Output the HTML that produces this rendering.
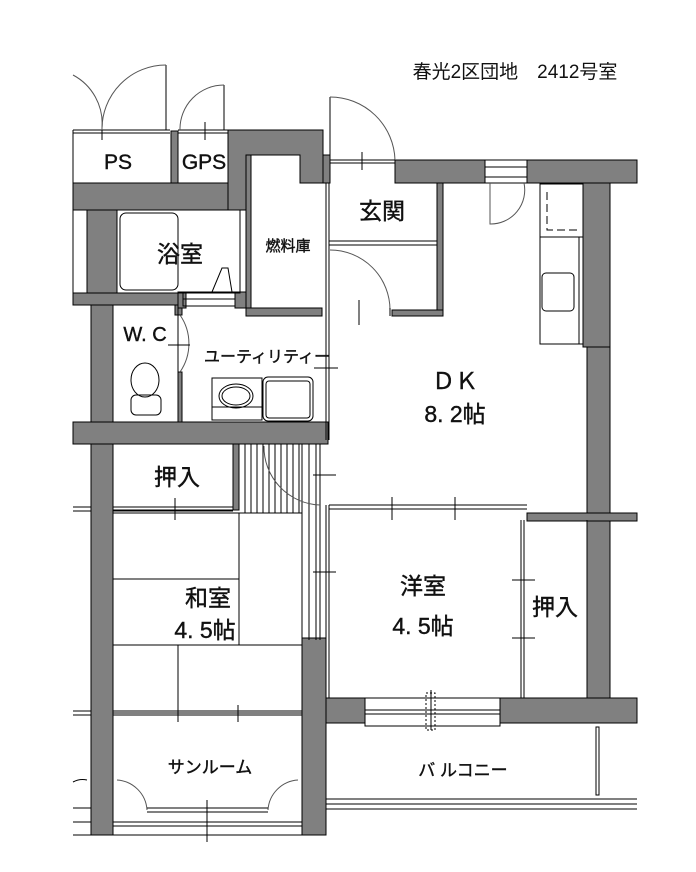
<!DOCTYPE html>
<html><head><meta charset="utf-8"><style>
html,body{margin:0;padding:0;background:#fff;}
svg{display:block;}
text{font-family:"Liberation Sans","Noto Sans CJK JP",sans-serif;fill:#111;}
.b{stroke:#111;stroke-width:0.4;}
</style></head><body>
<svg width="696" height="872" viewBox="0 0 696 872" xmlns="http://www.w3.org/2000/svg">
<g fill="#808080" stroke="#000" stroke-width="1">
<rect x="73" y="183" width="178" height="27"/>
<rect x="171" y="131" width="7" height="52"/>
<path d="M228 130 H323 V183 H300 V155 H251 V210 H228 Z" />
<rect x="246" y="155" width="5" height="161"/>
<rect x="246" y="308" width="76" height="8"/>
<rect x="87" y="210" width="30" height="83"/>
<rect x="73" y="293" width="106" height="12"/>
<rect x="91" y="305" width="22" height="530"/>
<rect x="175" y="305" width="7" height="10"/>
<rect x="178" y="372" width="4" height="50"/>
<rect x="73" y="422" width="255" height="22"/>
<rect x="233" y="444" width="6" height="66"/>
<rect x="178" y="292" width="8" height="16"/>
<rect x="235" y="292" width="11" height="16"/>
<rect x="395" y="160" width="242" height="23"/>
<rect x="323" y="155" width="7" height="28"/>
<rect x="437" y="183" width="6" height="133"/>
<rect x="392" y="310" width="51" height="6"/>
<rect x="583" y="183" width="27" height="164"/>
<rect x="587" y="347" width="23" height="376"/>
<rect x="527" y="513" width="110" height="8"/>
<rect x="302" y="638" width="24" height="197"/>
<rect x="326" y="698" width="39" height="25"/>
<rect x="500" y="698" width="137" height="25"/>
</g>
<g fill="none" stroke="#000" stroke-width="1">
<line x1="73" y1="130" x2="170" y2="130"/><line x1="73" y1="133" x2="170" y2="133"/>
<line x1="178" y1="130" x2="228" y2="130"/><line x1="178" y1="133" x2="228" y2="133"/>
<line x1="166" y1="65" x2="166" y2="130"/>
<path d="M166 65 A64 64 0 0 0 102 130" stroke="#555"/>
<path d="M73 75 A55 55 0 0 1 102 128" stroke="#555"/>
<line x1="102" y1="130" x2="102" y2="140"/>
<line x1="224" y1="85" x2="224" y2="130"/>
<path d="M224 85 A44 44 0 0 0 180 130" stroke="#555"/>
<line x1="205" y1="122" x2="205" y2="140"/>
<line x1="73" y1="130" x2="73" y2="183"/>
<line x1="73" y1="210" x2="73" y2="293"/>
<line x1="330" y1="97" x2="330" y2="160"/>
<path d="M330 97 A65 65 0 0 1 395 160" stroke="#555"/>
<line x1="330" y1="160" x2="395" y2="160"/><line x1="330" y1="163" x2="395" y2="163"/>
<line x1="362" y1="152" x2="362" y2="170"/>
<line x1="326" y1="183" x2="326" y2="440"/><line x1="329" y1="183" x2="329" y2="440"/>
<line x1="329" y1="241" x2="437" y2="241"/><line x1="329" y1="245" x2="437" y2="245"/>
<path d="M330 250 A60 60 0 0 1 390 310" stroke="#555"/>
<line x1="390" y1="308" x2="390" y2="316"/>
<line x1="359" y1="300" x2="359" y2="325"/>
<rect x="485" y="160" width="42" height="23" fill="#fff"/>
<line x1="485" y1="167" x2="527" y2="167"/><line x1="485" y1="177" x2="527" y2="177"/>
<path d="M490 183 V224 A34 34 0 0 0 524 183" stroke="#555"/>
<rect x="540" y="184" width="43" height="160"/>
<line x1="540" y1="237" x2="583" y2="237"/>
<path d="M547 192 V230 H578" stroke-dasharray="8,4"/>
<rect x="542" y="273" width="32" height="38" rx="4"/>
<line x1="579" y1="237" x2="579" y2="344"/>
<rect x="117" y="210" width="123" height="83"/>
<rect x="120" y="213" width="58" height="77" rx="6"/>
<rect x="183" y="292" width="52" height="14"/>
<line x1="183" y1="299" x2="235" y2="299"/>
<path d="M212 292 L222 268 L228 268 L232 292" />
<rect x="113" y="305" width="65" height="117"/>
<path d="M180 315 A50 50 0 0 1 180 372" stroke="#555"/>
<line x1="168" y1="345" x2="190" y2="345"/>
<ellipse cx="145" cy="380" rx="14" ry="17"/>
<rect x="131" y="395" width="30" height="20" rx="5"/>
<rect x="212" y="378" width="50" height="42"/>
<line x1="212" y1="407" x2="262" y2="407"/>
<ellipse cx="236" cy="396" rx="17" ry="12"/><ellipse cx="236" cy="396" rx="14" ry="9"/>
<rect x="263" y="377" width="50" height="44" rx="5"/>
<rect x="266" y="381" width="44" height="37" rx="3"/>
<line x1="314" y1="368" x2="338" y2="368"/>
<line x1="245" y1="444" x2="245" y2="513"/><line x1="251" y1="444" x2="251" y2="513"/>
<line x1="257" y1="444" x2="257" y2="513"/><line x1="263" y1="444" x2="263" y2="513"/>
<line x1="269" y1="444" x2="269" y2="513"/><line x1="275" y1="444" x2="275" y2="513"/>
<line x1="281" y1="444" x2="281" y2="513"/><line x1="287" y1="444" x2="287" y2="513"/>
<line x1="293" y1="444" x2="293" y2="513"/><line x1="299" y1="444" x2="299" y2="513"/>
<line x1="302" y1="444" x2="302" y2="640"/><line x1="309" y1="444" x2="309" y2="640"/>
<line x1="316" y1="444" x2="316" y2="640"/><line x1="320" y1="444" x2="320" y2="640"/>
<path d="M264 446 A58 58 0 0 0 320 505" stroke="#555"/>
<line x1="313" y1="475" x2="336" y2="475"/>
<line x1="313" y1="572" x2="336" y2="572"/>
<line x1="326" y1="505" x2="326" y2="640"/><line x1="329" y1="505" x2="329" y2="640"/>
<rect x="113" y="444" width="120" height="66"/>
<line x1="113" y1="507" x2="233" y2="507"/><line x1="113" y1="511" x2="233" y2="511"/>
<line x1="175" y1="498" x2="175" y2="520"/>
<line x1="73" y1="507" x2="91" y2="507"/><line x1="73" y1="511" x2="91" y2="511"/>
<rect x="113" y="513" width="189" height="200"/>
<line x1="239" y1="513" x2="239" y2="645"/>
<line x1="113" y1="579" x2="239" y2="579"/>
<line x1="113" y1="645" x2="302" y2="645"/>
<line x1="178" y1="645" x2="178" y2="722"/>
<line x1="113" y1="711" x2="302" y2="711"/><line x1="113" y1="715" x2="302" y2="715"/>
<line x1="238" y1="705" x2="238" y2="722"/>
<line x1="73" y1="711" x2="91" y2="711"/><line x1="73" y1="715" x2="91" y2="715"/>
<rect x="113" y="715" width="189" height="120"/>
<path d="M117 780 A32 32 0 0 1 147 810" stroke="#555"/>
<path d="M298 780 A32 32 0 0 0 268 810" stroke="#555"/>
<line x1="147" y1="808" x2="268" y2="808"/><line x1="147" y1="812" x2="268" y2="812"/>
<line x1="113" y1="822" x2="302" y2="822"/><line x1="113" y1="826" x2="302" y2="826"/>
<line x1="207" y1="800" x2="207" y2="842"/>
<line x1="73" y1="808" x2="91" y2="808"/><line x1="73" y1="822" x2="91" y2="822"/>
<line x1="73" y1="835" x2="113" y2="835"/>
<path d="M73 782 A20 20 0 0 1 87 780"/>
<line x1="329" y1="505" x2="527" y2="505"/><line x1="329" y1="509" x2="527" y2="509"/>
<line x1="392" y1="497" x2="392" y2="520"/><line x1="455" y1="497" x2="455" y2="520"/>
<line x1="329" y1="640" x2="329" y2="698"/>
<line x1="521" y1="520" x2="521" y2="698"/><line x1="524" y1="520" x2="524" y2="698"/>
<line x1="512" y1="580" x2="535" y2="580"/><line x1="512" y1="638" x2="535" y2="638"/>
<line x1="587" y1="520" x2="587" y2="698"/>
<rect x="365" y="698" width="135" height="28" fill="#fff"/>
<line x1="365" y1="710" x2="500" y2="710"/><line x1="365" y1="714" x2="500" y2="714"/>
<rect x="426" y="693" width="9" height="37" stroke-dasharray="2,2"/>
<line x1="431" y1="690" x2="431" y2="730"/>
<line x1="326" y1="799" x2="637" y2="799"/><line x1="326" y1="804" x2="637" y2="804"/>
<line x1="326" y1="809" x2="637" y2="809"/>
<rect x="596" y="727" width="3" height="68"/>
<line x1="610" y1="183" x2="610" y2="513"/>
<line x1="610" y1="521" x2="610" y2="698"/>
</g>
<text x="515" y="78" font-size="19" text-anchor="middle">春光2区団地　2412号室</text>
<g class="b">
<text x="118" y="169" font-size="21" text-anchor="middle">PS</text>
<text x="204" y="169" font-size="21" text-anchor="middle">GPS</text>
<text x="180" y="262" font-size="23" text-anchor="middle">浴室</text>
<text x="288" y="251" font-size="15" text-anchor="middle">燃料庫</text>
<text x="382" y="219" font-size="23" text-anchor="middle">玄関</text>
<text x="145" y="341" font-size="20" text-anchor="middle">W. C</text>
<text x="267" y="362" font-size="16" text-anchor="middle">ユーティリティー</text>
<text x="455" y="389" font-size="23" text-anchor="middle">ＤＫ</text>
<text x="455" y="422" font-size="23" text-anchor="middle">8. 2帖</text>
<text x="177" y="485" font-size="23" text-anchor="middle">押入</text>
<text x="208" y="606" font-size="23" text-anchor="middle">和室</text>
<text x="205" y="638" font-size="23" text-anchor="middle">4. 5帖</text>
<text x="423" y="594" font-size="23" text-anchor="middle">洋室</text>
<text x="423" y="634" font-size="23" text-anchor="middle">4. 5帖</text>
<text x="555" y="615" font-size="23" text-anchor="middle">押入</text>
<text x="210" y="773" font-size="17" text-anchor="middle">サンルーム</text>
<text x="463" y="776" font-size="17" text-anchor="middle">バ ルコニー</text>
</g>
</svg>
</body></html>
